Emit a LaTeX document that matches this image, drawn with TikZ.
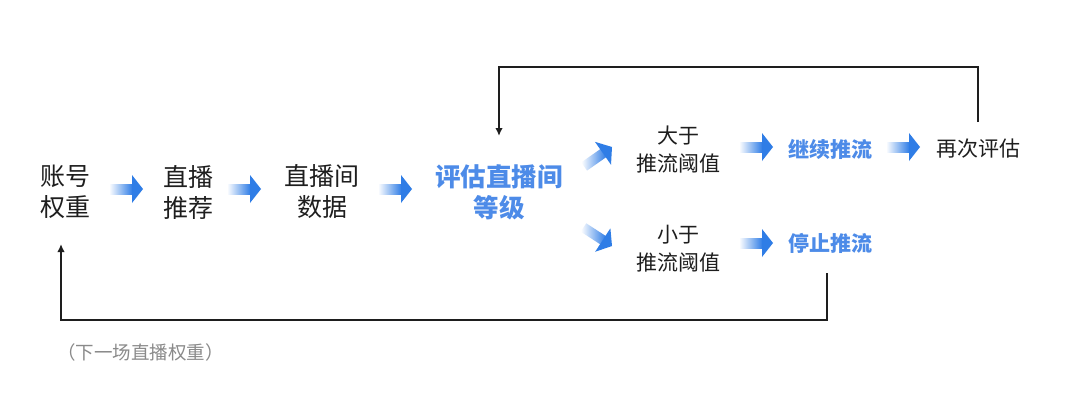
\documentclass[tikz,border=0pt]{standalone}
\usepackage{fontspec}
\setmainfont{Noto Sans CJK SC}
\usetikzlibrary{arrows.meta}
\definecolor{tblue}{HTML}{4D8BE8}
\definecolor{ablue}{HTML}{2F7DE6}
\definecolor{gtext}{HTML}{8A8A8A}
\definecolor{lk}{HTML}{1E1E1E}
\tikzset{
  big/.style={inner sep=0pt, align=center, text=lk, font=\fontsize{25}{31}\selectfont},
  bigblue/.style={inner sep=0pt, align=center, text=tblue, font=\fontsize{25.5}{31}\bfseries\selectfont},
  mid/.style={inner sep=0pt, align=center, text=lk, font=\fontsize{21}{28}\selectfont},
  midblue/.style={inner sep=0pt, align=center, text=tblue, font=\fontsize{21}{28}\bfseries\selectfont},
  note/.style={inner sep=0pt, anchor=west, text=gtext, font=\fontsize{18.5}{22}\selectfont},
  fb/.style={draw=lk, line width=2pt},
  fbarrow/.style={fb, -{Latex[length=8pt,width=7.5pt]}},
  garrow/.pic={
    \shade[left color=white, right color=ablue, draw=none] (-34,-5) rectangle (-10.5,5);
    \fill[ablue] (-11,-14) -- (0,0) -- (-11,14) -- cycle;
  }
}
\begin{document}
\begin{tikzpicture}[x=1pt,y=-1pt]
\useasboundingbox (0,0) rectangle (1080,415);
\fill[white] (0,0) rectangle (1080,415);
% nodes
\node[big] (acct) at (66,192) {账号\\权重};
\node[big] (rec) at (188,192) {直播\\推荐};
\node[big] (data) at (322,192) {直播间\\数据};
\node[bigblue] (eval) at (499,192) {评估直播间\\等级};
\node[mid] (gt) at (678,150) {大于\\推流阈值};
\node[mid] (lt) at (678,249) {小于\\推流阈值};
\node[midblue] (cont) at (830,149) {继续推流};
\node[mid] (again) at (978,149) {再次评估};
\node[midblue] (stop) at (830,243) {停止推流};
\node[note] (next) at (57,352) {（下一场直播权重）};
% gradient arrows
\pic at (143,189) {garrow};
\pic at (261,189) {garrow};
\pic at (412,189) {garrow};
\pic[rotate=35] at (612,147) {garrow};
\pic[rotate=-33] at (612,246) {garrow};
\pic at (773,147) {garrow};
\pic at (920,147) {garrow};
\pic at (773,243) {garrow};
% feedback loops
\draw[fbarrow] (again.north |- 0,122) -- (again.north |- 0,67) -| (eval.north |- 0,136);
\draw[fbarrow] ([xshift=-3pt]stop.south |- 0,273) -- ([xshift=-3pt]stop.south |- 0,320) -| ([xshift=-5pt]acct.south |- 0,244);
\end{tikzpicture}
\end{document}
